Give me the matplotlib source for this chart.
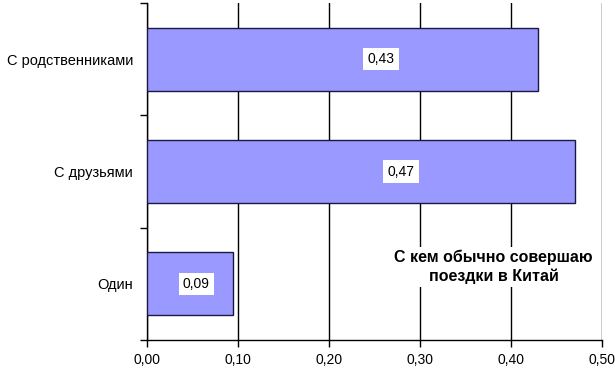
import matplotlib
matplotlib.use("Agg")
import matplotlib.pyplot as plt
import numpy as np

plt.rcParams['font.family'] = ['Liberation Sans', 'DejaVu Sans']

# данные
categories = ["Один", "С друзьями", "С родственниками"]
values = [0.094, 0.47, 0.43]
label_x = [0.054, 0.279, 0.257]   # где стоят подписи значений
title = "С кем обычно совершаю\nпоездки в Китай"

fig = plt.figure(figsize=(6.15, 3.71), dpi=100)
ax = fig.add_axes([147 / 615, 1 - 340 / 371, 455 / 615, 337 / 371])

y = np.arange(len(categories))
ax.barh(y, values, height=0.56, color='#9999FF', edgecolor='#1a1a40',
        linewidth=1.0, zorder=3)

for yi, v, lx in zip(y, values, label_x):
    ax.text(lx, yi, f"{v:.2f}".replace('.', ','), ha='center', va='center',
            fontsize=10, zorder=5,
            bbox=dict(facecolor='white', edgecolor='none', pad=3))

ax.set_xlim(0, 0.5)
ax.set_ylim(-0.5, len(categories) - 0.5)
ticks = np.arange(0, 0.51, 0.1)
ax.set_xticks(ticks)
ax.set_xticklabels([f"{t:.2f}".replace('.', ',') for t in ticks], fontsize=10)
ax.set_yticks(y)
ax.set_yticklabels(categories, fontsize=10.5)
ax.tick_params(axis='y', length=0, pad=10)
ax.set_yticks(np.arange(-0.5, len(categories), 1), minor=True)
ax.tick_params(axis='y', which='minor', length=5, width=1, direction='out')
ax.tick_params(axis='x', length=5, width=1, direction='out', pad=4)

ax.grid(axis='x', color='black', linewidth=1.0, zorder=1)
for s in ['top', 'right']:
    ax.spines[s].set_visible(False)
for s in ['left', 'bottom']:
    ax.spines[s].set_color('black')
    ax.spines[s].set_linewidth(1.0)

ax.text(0.381, 0.15, title, ha='center', va='center', fontsize=11.5,
        fontweight='bold', linespacing=1.3, zorder=4,
        bbox=dict(facecolor='white', edgecolor='none', pad=2))

fig.savefig("out.png", dpi=100)
